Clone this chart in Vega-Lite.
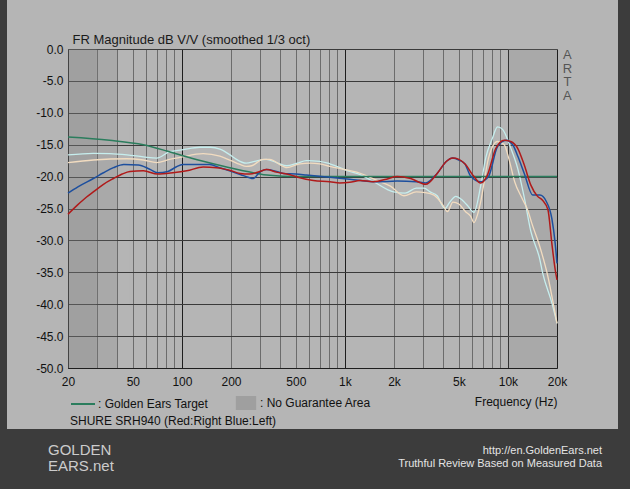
{
  "$schema": "https://vega.github.io/schema/vega-lite/v6.json",
  "width": 489,
  "height": 319,
  "autosize": {"type": "none"},
  "padding": {"left": 68, "top": 49, "right": 73, "bottom": 121},
  "background": "#3c3c3c",
  "config": {"font": "Liberation Sans"},
  "view": {"fill": "#b4b4b4", "stroke": "#b5b5b5", "strokeWidth": 122},
  "title": {"text": ["A", "R", "T", "A"], "orient": "right", "anchor": "start", "angle": 0, "align": "center", "baseline": "top", "offset": -44, "fontSize": 13, "lineHeight": 13.5, "fontWeight": "normal", "color": "#555555", "frame": "group"},
  "resolve": {"scale": {"shape": "independent"}, "legend": {"shape": "independent"}},
  "datasets": {
    "zones": [
      {"f": 20, "f2": 40, "zone": "No Guarantee Area"},
      {"f": 20, "f2": 30, "zone": "No Guarantee Area"},
      {"f": 10000, "f2": 20000, "zone": "No Guarantee Area"}
    ],
    "footer": [{"t": "http://en.GoldenEars.net"}, {"t": "Truthful Review Based on Measured Data"}],
    "logo": [{"l": "GOLDEN"}, {"l": "EARS.net"}],
    "target": [
      {"f": 20, "db": -13.8, "s": "Golden Ears Target"},
      {"f": 36, "db": -14.3, "s": "Golden Ears Target"},
      {"f": 58, "db": -15.0, "s": "Golden Ears Target"},
      {"f": 81, "db": -16.0, "s": "Golden Ears Target"},
      {"f": 100, "db": -16.7, "s": "Golden Ears Target"},
      {"f": 135, "db": -17.6, "s": "Golden Ears Target"},
      {"f": 188, "db": -18.5, "s": "Golden Ears Target"},
      {"f": 274, "db": -19.4, "s": "Golden Ears Target"},
      {"f": 345, "db": -19.8, "s": "Golden Ears Target"},
      {"f": 500, "db": -20.0, "s": "Golden Ears Target"},
      {"f": 20000, "db": -20.0, "s": "Golden Ears Target"}
    ],
    "right": [
      {"f": 20, "db": -25.9, "s": "Right"}, {"f": 23, "db": -24.4, "s": "Right"}, {"f": 26, "db": -23.2, "s": "Right"},
      {"f": 28.6, "db": -22.4, "s": "Right"}, {"f": 33, "db": -21.2, "s": "Right"}, {"f": 38, "db": -20.3, "s": "Right"},
      {"f": 43, "db": -19.6, "s": "Right"}, {"f": 48, "db": -19.2, "s": "Right"}, {"f": 58, "db": -19.1, "s": "Right"},
      {"f": 71, "db": -19.6, "s": "Right"}, {"f": 88, "db": -19.4, "s": "Right"}, {"f": 107, "db": -19.1, "s": "Right"},
      {"f": 135, "db": -18.5, "s": "Right"}, {"f": 163, "db": -18.6, "s": "Right"}, {"f": 196, "db": -19.0, "s": "Right"},
      {"f": 227, "db": -19.5, "s": "Right"}, {"f": 260, "db": -19.6, "s": "Right"}, {"f": 300, "db": -19.2, "s": "Right"},
      {"f": 330, "db": -18.9, "s": "Right"}, {"f": 380, "db": -19.3, "s": "Right"}, {"f": 460, "db": -19.7, "s": "Right"},
      {"f": 530, "db": -20.2, "s": "Right"}, {"f": 640, "db": -20.6, "s": "Right"}, {"f": 808, "db": -20.8, "s": "Right"},
      {"f": 930, "db": -21.0, "s": "Right"}, {"f": 1070, "db": -20.9, "s": "Right"}, {"f": 1240, "db": -20.6, "s": "Right"},
      {"f": 1500, "db": -20.8, "s": "Right"}, {"f": 1800, "db": -20.4, "s": "Right"}, {"f": 2090, "db": -20.0, "s": "Right"},
      {"f": 2530, "db": -20.3, "s": "Right"}, {"f": 3130, "db": -21.2, "s": "Right"}, {"f": 3680, "db": -19.5, "s": "Right"},
      {"f": 4200, "db": -17.6, "s": "Right"}, {"f": 4580, "db": -17.1, "s": "Right"}, {"f": 5000, "db": -17.3, "s": "Right"},
      {"f": 5440, "db": -18.0, "s": "Right"}, {"f": 6190, "db": -20.0, "s": "Right"}, {"f": 6800, "db": -21.0, "s": "Right"},
      {"f": 7470, "db": -19.8, "s": "Right"}, {"f": 8420, "db": -15.6, "s": "Right"}, {"f": 9490, "db": -14.3, "s": "Right"},
      {"f": 10400, "db": -14.5, "s": "Right"}, {"f": 11500, "db": -15.6, "s": "Right"}, {"f": 12600, "db": -18.2, "s": "Right"},
      {"f": 13800, "db": -21.3, "s": "Right"}, {"f": 15200, "db": -23.1, "s": "Right"}, {"f": 16300, "db": -23.7, "s": "Right"},
      {"f": 17600, "db": -25.2, "s": "Right"}, {"f": 18600, "db": -30.5, "s": "Right"}, {"f": 19500, "db": -34.6, "s": "Right"},
      {"f": 20000, "db": -36.2, "s": "Right"}
    ],
    "left": [
      {"f": 20, "db": -22.6, "s": "Left"}, {"f": 23, "db": -21.6, "s": "Left"}, {"f": 28.6, "db": -20.3, "s": "Left"},
      {"f": 33, "db": -19.4, "s": "Left"}, {"f": 38, "db": -18.6, "s": "Left"}, {"f": 44, "db": -18.1, "s": "Left"},
      {"f": 54, "db": -18.2, "s": "Left"}, {"f": 63, "db": -18.8, "s": "Left"}, {"f": 71, "db": -19.4, "s": "Left"},
      {"f": 82, "db": -19.2, "s": "Left"}, {"f": 92, "db": -18.5, "s": "Left"}, {"f": 101, "db": -18.1, "s": "Left"},
      {"f": 135, "db": -18.1, "s": "Left"}, {"f": 148, "db": -18.1, "s": "Left"}, {"f": 170, "db": -18.6, "s": "Left"},
      {"f": 196, "db": -19.1, "s": "Left"}, {"f": 230, "db": -19.7, "s": "Left"}, {"f": 255, "db": -20.1, "s": "Left"},
      {"f": 274, "db": -20.3, "s": "Left"}, {"f": 300, "db": -19.3, "s": "Left"}, {"f": 330, "db": -18.9, "s": "Left"},
      {"f": 380, "db": -19.2, "s": "Left"}, {"f": 418, "db": -19.5, "s": "Left"}, {"f": 500, "db": -19.6, "s": "Left"},
      {"f": 580, "db": -19.75, "s": "Left"}, {"f": 808, "db": -20.1, "s": "Left"}, {"f": 1070, "db": -20.4, "s": "Left"},
      {"f": 1575, "db": -20.8, "s": "Left"}, {"f": 2090, "db": -20.7, "s": "Left"}, {"f": 2740, "db": -20.8, "s": "Left"},
      {"f": 3130, "db": -21.0, "s": "Left"}, {"f": 3680, "db": -19.5, "s": "Left"}, {"f": 4200, "db": -17.6, "s": "Left"},
      {"f": 4580, "db": -17.1, "s": "Left"}, {"f": 5000, "db": -17.4, "s": "Left"}, {"f": 5440, "db": -18.0, "s": "Left"},
      {"f": 5900, "db": -19.9, "s": "Left"}, {"f": 6800, "db": -20.8, "s": "Left"}, {"f": 7600, "db": -20.0, "s": "Left"},
      {"f": 8630, "db": -15.3, "s": "Left"}, {"f": 9730, "db": -14.3, "s": "Left"}, {"f": 10700, "db": -15.0, "s": "Left"},
      {"f": 11500, "db": -16.8, "s": "Left"}, {"f": 12600, "db": -19.5, "s": "Left"}, {"f": 14200, "db": -22.9, "s": "Left"},
      {"f": 15700, "db": -22.9, "s": "Left"}, {"f": 17200, "db": -23.9, "s": "Left"}, {"f": 18600, "db": -26.6, "s": "Left"},
      {"f": 19500, "db": -30.5, "s": "Left"}, {"f": 20000, "db": -33.6, "s": "Left"}
    ],
    "comp1": [
      {"f": 20, "db": -16.6, "s": "Comp 1"}, {"f": 28.6, "db": -16.35, "s": "Comp 1"}, {"f": 36, "db": -16.4, "s": "Comp 1"},
      {"f": 46, "db": -16.6, "s": "Comp 1"}, {"f": 58, "db": -16.9, "s": "Comp 1"}, {"f": 70, "db": -17.1, "s": "Comp 1"},
      {"f": 84, "db": -16.1, "s": "Comp 1"}, {"f": 100, "db": -15.8, "s": "Comp 1"}, {"f": 129, "db": -15.4, "s": "Comp 1"},
      {"f": 150, "db": -15.4, "s": "Comp 1"}, {"f": 171, "db": -15.7, "s": "Comp 1"}, {"f": 200, "db": -16.7, "s": "Comp 1"},
      {"f": 216, "db": -17.3, "s": "Comp 1"}, {"f": 248, "db": -17.9, "s": "Comp 1"}, {"f": 280, "db": -17.6, "s": "Comp 1"},
      {"f": 329, "db": -17.3, "s": "Comp 1"}, {"f": 380, "db": -17.8, "s": "Comp 1"}, {"f": 440, "db": -18.3, "s": "Comp 1"},
      {"f": 510, "db": -17.9, "s": "Comp 1"}, {"f": 580, "db": -17.5, "s": "Comp 1"}, {"f": 700, "db": -17.6, "s": "Comp 1"},
      {"f": 808, "db": -18.0, "s": "Comp 1"}, {"f": 1070, "db": -19.2, "s": "Comp 1"}, {"f": 1240, "db": -19.7, "s": "Comp 1"},
      {"f": 1500, "db": -20.8, "s": "Comp 1"}, {"f": 1990, "db": -22.4, "s": "Comp 1"}, {"f": 2340, "db": -22.6, "s": "Comp 1"},
      {"f": 2740, "db": -21.8, "s": "Comp 1"}, {"f": 3050, "db": -21.8, "s": "Comp 1"}, {"f": 3330, "db": -22.4, "s": "Comp 1"},
      {"f": 3680, "db": -23.0, "s": "Comp 1"}, {"f": 4100, "db": -25.0, "s": "Comp 1"}, {"f": 4400, "db": -24.0, "s": "Comp 1"},
      {"f": 4790, "db": -23.1, "s": "Comp 1"}, {"f": 5200, "db": -23.6, "s": "Comp 1"}, {"f": 5630, "db": -24.5, "s": "Comp 1"},
      {"f": 6190, "db": -25.6, "s": "Comp 1"}, {"f": 6800, "db": -21.5, "s": "Comp 1"}, {"f": 7320, "db": -17.0, "s": "Comp 1"},
      {"f": 8030, "db": -14.0, "s": "Comp 1"}, {"f": 8630, "db": -12.2, "s": "Comp 1"}, {"f": 9270, "db": -12.6, "s": "Comp 1"},
      {"f": 10400, "db": -15.5, "s": "Comp 1"}, {"f": 11500, "db": -18.8, "s": "Comp 1"}, {"f": 12600, "db": -23.3, "s": "Comp 1"},
      {"f": 13800, "db": -28.5, "s": "Comp 1"}, {"f": 15700, "db": -33.0, "s": "Comp 1"}, {"f": 16300, "db": -35.0, "s": "Comp 1"},
      {"f": 18600, "db": -39.8, "s": "Comp 1"}, {"f": 20000, "db": -43.0, "s": "Comp 1"}
    ],
    "comp2": [
      {"f": 20, "db": -17.8, "s": "Comp 2"}, {"f": 28.6, "db": -17.4, "s": "Comp 2"}, {"f": 46, "db": -17.2, "s": "Comp 2"},
      {"f": 58, "db": -17.4, "s": "Comp 2"}, {"f": 70, "db": -17.8, "s": "Comp 2"}, {"f": 84, "db": -17.3, "s": "Comp 2"},
      {"f": 97, "db": -17.0, "s": "Comp 2"}, {"f": 135, "db": -16.4, "s": "Comp 2"}, {"f": 171, "db": -16.8, "s": "Comp 2"},
      {"f": 200, "db": -17.5, "s": "Comp 2"}, {"f": 227, "db": -18.1, "s": "Comp 2"}, {"f": 248, "db": -18.4, "s": "Comp 2"},
      {"f": 268, "db": -18.3, "s": "Comp 2"}, {"f": 315, "db": -17.3, "s": "Comp 2"}, {"f": 345, "db": -17.3, "s": "Comp 2"},
      {"f": 418, "db": -18.4, "s": "Comp 2"}, {"f": 440, "db": -18.6, "s": "Comp 2"}, {"f": 530, "db": -18.0, "s": "Comp 2"},
      {"f": 612, "db": -17.9, "s": "Comp 2"}, {"f": 700, "db": -18.0, "s": "Comp 2"}, {"f": 808, "db": -18.4, "s": "Comp 2"},
      {"f": 1000, "db": -18.9, "s": "Comp 2"}, {"f": 1182, "db": -19.3, "s": "Comp 2"}, {"f": 1575, "db": -20.6, "s": "Comp 2"},
      {"f": 1900, "db": -21.5, "s": "Comp 2"}, {"f": 2300, "db": -23.0, "s": "Comp 2"}, {"f": 2740, "db": -22.4, "s": "Comp 2"},
      {"f": 3100, "db": -22.5, "s": "Comp 2"}, {"f": 3520, "db": -22.9, "s": "Comp 2"}, {"f": 4000, "db": -24.5, "s": "Comp 2"},
      {"f": 4250, "db": -25.5, "s": "Comp 2"}, {"f": 4600, "db": -24.0, "s": "Comp 2"}, {"f": 5000, "db": -24.3, "s": "Comp 2"},
      {"f": 5500, "db": -25.5, "s": "Comp 2"}, {"f": 5900, "db": -26.2, "s": "Comp 2"}, {"f": 6190, "db": -27.2, "s": "Comp 2"},
      {"f": 6500, "db": -26.0, "s": "Comp 2"}, {"f": 6800, "db": -24.0, "s": "Comp 2"}, {"f": 7600, "db": -17.1, "s": "Comp 2"},
      {"f": 8630, "db": -14.5, "s": "Comp 2"}, {"f": 9490, "db": -15.0, "s": "Comp 2"}, {"f": 10200, "db": -17.5, "s": "Comp 2"},
      {"f": 11000, "db": -20.8, "s": "Comp 2"}, {"f": 12200, "db": -23.4, "s": "Comp 2"}, {"f": 13200, "db": -25.2, "s": "Comp 2"},
      {"f": 14000, "db": -27.3, "s": "Comp 2"}, {"f": 15700, "db": -31.0, "s": "Comp 2"}, {"f": 17600, "db": -35.7, "s": "Comp 2"},
      {"f": 19300, "db": -40.9, "s": "Comp 2"}, {"f": 20000, "db": -43.0, "s": "Comp 2"}
    ]
  },
  "layer": [
    {
      "data": {"name": "zones"},
      "mark": {"type": "rect", "fillOpacity": 0.22},
      "encoding": {
        "x": {"field": "f", "type": "quantitative", "scale": {"type": "log", "domain": [20, 20000], "nice": false},
          "axis": {
            "values": [20, 30, 40, 50, 60, 70, 80, 90, 100, 200, 300, 400, 500, 600, 700, 800, 900, 1000, 2000, 3000, 4000, 5000, 6000, 7000, 8000, 9000, 10000, 20000],
            "tickCount": 40,
            "labelExpr": "indexof([20,50,100,200,500,1000,2000,5000,10000,20000], datum.value) >= 0 ? (datum.value >= 1000 ? (datum.value / 1000) + 'k' : '' + datum.value) : ''",
            "grid": true,
            "gridColor": {"condition": {"test": "datum.value === 20 || datum.value === 100 || datum.value === 1000 || datum.value === 10000 || datum.value === 20000", "value": "#1e1e1e"}, "value": "#6c6c6c"},
            "gridWidth": 1,
            "ticks": false, "tickSize": 0, "domain": true, "domainColor": "#1e1e1e",
            "labelPadding": 8, "labelFontSize": 12, "labelColor": "#111111", "labelFlush": false, "labelOverlap": false,
            "title": "Frequency (Hz)", "titleX": 489, "titleY": 28, "titleAlign": "right", "titleBaseline": "top", "titleFontWeight": "normal", "titleFontSize": 12, "titleColor": "#111111"
          }
        },
        "x2": {"field": "f2"},
        "fill": {"field": "zone", "type": "nominal", "scale": {"domain": ["No Guarantee Area"], "range": ["#808080"]},
          "legend": {"orient": "none", "legendX": 171, "legendY": 347, "title": null, "symbolType": "M-1.45,-1H1.45V1H-1.45Z", "symbolSize": 196, "symbolOpacity": 0.4, "symbolStrokeWidth": 0, "labelExpr": "': ' + datum.label", "labelFontSize": 12, "labelColor": "#111111", "labelOffset": 7, "labelLimit": 300, "padding": 0}
        }
      }
    },
    {
      "data": {"name": "comp1"},
      "mark": {"type": "line", "interpolate": "monotone", "strokeWidth": 1.3},
      "encoding": {
        "x": {"field": "f", "type": "quantitative", "scale": {"type": "log", "domain": [20, 20000], "nice": false}},
        "y": {"field": "db", "type": "quantitative", "scale": {"domain": [-50, 0], "nice": false, "zero": false},
          "axis": {
            "values": [0, -5, -10, -15, -20, -25, -30, -35, -40, -45, -50],
            "tickCount": 20,
            "labelExpr": "(datum.value < 0 ? '-' : '') + format(abs(datum.value), '.1f')",
            "grid": true, "gridColor": "#3a3a3a", "gridWidth": 1,
            "ticks": false, "tickSize": 0, "domain": true, "domainColor": "#1e1e1e",
            "labelPadding": 5, "labelFontSize": 12, "labelColor": "#111111", "labelFlush": false, "labelOverlap": false,
            "title": "FR Magnitude dB V/V (smoothed 1/3 oct)",
            "titleAngle": 0, "titleAlign": "left", "titleBaseline": "top", "titleX": 4, "titleY": -16,
            "titleFontSize": 13, "titleFontWeight": "normal", "titleColor": "#1a1a1a"
          }
        },
        "color": {"field": "s", "type": "nominal", "scale": {"domain": ["Right", "Left", "Comp 1", "Comp 2"], "range": ["#b01a1a", "#1d4f9e", "#c6eeee", "#f2dcc0"]}, "legend": null}
      }
    },
    {
      "data": {"name": "comp2"},
      "mark": {"type": "line", "interpolate": "monotone", "strokeWidth": 1.3},
      "encoding": {
        "x": {"field": "f", "type": "quantitative", "scale": {"type": "log", "domain": [20, 20000], "nice": false}},
        "y": {"field": "db", "type": "quantitative", "scale": {"domain": [-50, 0], "nice": false, "zero": false}},
        "color": {"field": "s", "type": "nominal", "scale": {"domain": ["Right", "Left", "Comp 1", "Comp 2"], "range": ["#b01a1a", "#1d4f9e", "#c6eeee", "#f2dcc0"]}, "legend": null}
      }
    },
    {
      "data": {"name": "target"},
      "mark": {"type": "line", "interpolate": "monotone", "strokeWidth": 1.5},
      "encoding": {
        "x": {"field": "f", "type": "quantitative", "scale": {"type": "log", "domain": [20, 20000], "nice": false}},
        "y": {"field": "db", "type": "quantitative", "scale": {"domain": [-50, 0], "nice": false, "zero": false}},
        "stroke": {"field": "s", "type": "nominal", "scale": {"domain": ["Golden Ears Target"], "range": ["#2b7d5d"]},
          "legend": {"orient": "none", "legendX": 2, "legendY": 342, "title": "SHURE SRH940 (Red:Right Blue:Left)", "titleOrient": "bottom", "titleAnchor": "start", "titlePadding": 6, "titleFontSize": 12, "titleFontWeight": "normal", "titleColor": "#111111", "titleLimit": 400, "symbolType": "stroke", "symbolSize": 576, "symbolStrokeWidth": 2, "labelExpr": "': ' + datum.label", "labelFontSize": 12, "labelColor": "#111111", "labelOffset": 2, "labelLimit": 300, "padding": 0}
        }
      }
    },
    {
      "data": {"name": "left"},
      "mark": {"type": "line", "interpolate": "monotone", "strokeWidth": 1.5},
      "encoding": {
        "x": {"field": "f", "type": "quantitative", "scale": {"type": "log", "domain": [20, 20000], "nice": false}},
        "y": {"field": "db", "type": "quantitative", "scale": {"domain": [-50, 0], "nice": false, "zero": false}},
        "color": {"field": "s", "type": "nominal", "scale": {"domain": ["Right", "Left", "Comp 1", "Comp 2"], "range": ["#b01a1a", "#1d4f9e", "#c6eeee", "#f2dcc0"]}, "legend": null}
      }
    },
    {
      "data": {"name": "right"},
      "mark": {"type": "line", "interpolate": "monotone", "strokeWidth": 1.5},
      "encoding": {
        "x": {"field": "f", "type": "quantitative", "scale": {"type": "log", "domain": [20, 20000], "nice": false}},
        "y": {"field": "db", "type": "quantitative", "scale": {"domain": [-50, 0], "nice": false, "zero": false}},
        "color": {"field": "s", "type": "nominal", "scale": {"domain": ["Right", "Left", "Comp 1", "Comp 2"], "range": ["#b01a1a", "#1d4f9e", "#c6eeee", "#f2dcc0"]}, "legend": null}
      }
    },
    {
      "data": {"name": "footer"},
      "mark": {"type": "point", "opacity": 0},
      "encoding": {
        "shape": {"field": "t", "type": "nominal", "scale": {"domain": ["http://en.GoldenEars.net", "Truthful Review Based on Measured Data"]},
          "legend": {"orient": "none", "legendX": 523, "legendY": 396, "title": null, "symbolSize": 1, "symbolOpacity": 0, "symbolStrokeWidth": 0, "labelAlign": "right", "labelOffset": 0, "labelFontSize": 11, "labelColor": "#e4e4e4", "labelLimit": 400, "rowPadding": 1, "padding": 0}
        }
      }
    },
    {
      "data": {"name": "logo"},
      "mark": {"type": "point", "opacity": 0},
      "encoding": {
        "shape": {"field": "l", "type": "nominal", "scale": {"domain": ["GOLDEN", "EARS.net"]},
          "legend": {"orient": "none", "legendX": -35, "legendY": 393, "title": null, "symbolSize": 1, "symbolOpacity": 0, "symbolStrokeWidth": 0, "labelOffset": 0, "labelFontSize": 15, "labelColor": "#cccccc", "labelLimit": 400, "rowPadding": -1, "padding": 0}
        }
      }
    }
  ]
}
